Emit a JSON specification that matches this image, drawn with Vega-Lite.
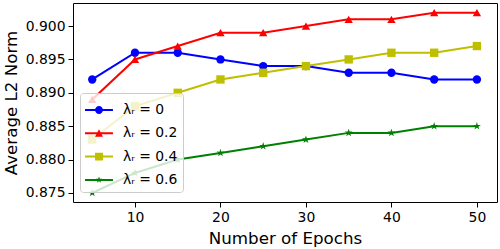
{
  "$schema": "https://vega.github.io/schema/vega-lite/v6.json",
  "width": 424,
  "height": 199,
  "autosize": {"type": "none"},
  "padding": {"left": 73, "top": 3, "right": 3, "bottom": 47},
  "background": "white",
  "config": {
    "view": {"stroke": "black", "strokeWidth": 1},
    "font": "DejaVu Sans",
    "axis": {
      "grid": false,
      "domain": false,
      "tickColor": "black",
      "tickSize": 5,
      "labelColor": "black",
      "labelFont": "DejaVu Sans",
      "labelFontSize": 13.9,
      "labelPadding": 3,
      "titleFont": "DejaVu Sans",
      "titleFontSize": 16.7,
      "titleFontWeight": "normal",
      "titleColor": "black"
    }
  },
  "data": {
    "values": [
      {"epoch": 5, "value": 0.892, "series": "λᵣ = 0"},
      {"epoch": 10, "value": 0.896, "series": "λᵣ = 0"},
      {"epoch": 15, "value": 0.896, "series": "λᵣ = 0"},
      {"epoch": 20, "value": 0.895, "series": "λᵣ = 0"},
      {"epoch": 25, "value": 0.894, "series": "λᵣ = 0"},
      {"epoch": 30, "value": 0.894, "series": "λᵣ = 0"},
      {"epoch": 35, "value": 0.893, "series": "λᵣ = 0"},
      {"epoch": 40, "value": 0.893, "series": "λᵣ = 0"},
      {"epoch": 45, "value": 0.892, "series": "λᵣ = 0"},
      {"epoch": 50, "value": 0.892, "series": "λᵣ = 0"},
      {"epoch": 5, "value": 0.889, "series": "λᵣ = 0.2"},
      {"epoch": 10, "value": 0.895, "series": "λᵣ = 0.2"},
      {"epoch": 15, "value": 0.897, "series": "λᵣ = 0.2"},
      {"epoch": 20, "value": 0.899, "series": "λᵣ = 0.2"},
      {"epoch": 25, "value": 0.899, "series": "λᵣ = 0.2"},
      {"epoch": 30, "value": 0.900, "series": "λᵣ = 0.2"},
      {"epoch": 35, "value": 0.901, "series": "λᵣ = 0.2"},
      {"epoch": 40, "value": 0.901, "series": "λᵣ = 0.2"},
      {"epoch": 45, "value": 0.902, "series": "λᵣ = 0.2"},
      {"epoch": 50, "value": 0.902, "series": "λᵣ = 0.2"},
      {"epoch": 5, "value": 0.883, "series": "λᵣ = 0.4"},
      {"epoch": 10, "value": 0.888, "series": "λᵣ = 0.4"},
      {"epoch": 15, "value": 0.890, "series": "λᵣ = 0.4"},
      {"epoch": 20, "value": 0.892, "series": "λᵣ = 0.4"},
      {"epoch": 25, "value": 0.893, "series": "λᵣ = 0.4"},
      {"epoch": 30, "value": 0.894, "series": "λᵣ = 0.4"},
      {"epoch": 35, "value": 0.895, "series": "λᵣ = 0.4"},
      {"epoch": 40, "value": 0.896, "series": "λᵣ = 0.4"},
      {"epoch": 45, "value": 0.896, "series": "λᵣ = 0.4"},
      {"epoch": 50, "value": 0.897, "series": "λᵣ = 0.4"},
      {"epoch": 5, "value": 0.875, "series": "λᵣ = 0.6"},
      {"epoch": 10, "value": 0.878, "series": "λᵣ = 0.6"},
      {"epoch": 15, "value": 0.880, "series": "λᵣ = 0.6"},
      {"epoch": 20, "value": 0.881, "series": "λᵣ = 0.6"},
      {"epoch": 25, "value": 0.882, "series": "λᵣ = 0.6"},
      {"epoch": 30, "value": 0.883, "series": "λᵣ = 0.6"},
      {"epoch": 35, "value": 0.884, "series": "λᵣ = 0.6"},
      {"epoch": 40, "value": 0.884, "series": "λᵣ = 0.6"},
      {"epoch": 45, "value": 0.885, "series": "λᵣ = 0.6"},
      {"epoch": 50, "value": 0.885, "series": "λᵣ = 0.6"}
    ]
  },
  "encoding": {
    "x": {
      "field": "epoch", "type": "quantitative",
      "scale": {"domain": [2.75, 52.35], "nice": false, "zero": false},
      "axis": {"values": [10, 20, 30, 40, 50], "title": "Number of Epochs", "titlePadding": 7}
    },
    "y": {
      "field": "value", "type": "quantitative",
      "scale": {"domain": [0.87365, 0.90345], "nice": false, "zero": false},
      "axis": {"values": [0.875, 0.88, 0.885, 0.89, 0.895, 0.9], "format": ".3f", "title": "Average L2 Norm", "titlePadding": 5}
    }
  },
  "layer": [
    {
      "mark": {"type": "line", "strokeWidth": 2},
      "encoding": {
        "color": {
          "field": "series", "type": "nominal",
          "scale": {"domain": ["λᵣ = 0", "λᵣ = 0.2", "λᵣ = 0.4", "λᵣ = 0.6"], "range": ["#0000ff", "#ff0000", "#bfbf00", "#008000"]},
          "legend": {
            "title": null,
            "orient": "none",
            "legendX": 7,
            "legendY": 90,
            "padding": 5,
            "symbolSize": 576,
            "rowPadding": 4.3,
            "labelOffset": 14,
            "labelFont": "DejaVu Sans",
            "labelFontSize": 13.9,
            "labelColor": "black",
            "fillColor": "rgba(255,255,255,0.8)",
            "strokeColor": "#cccccc",
            "cornerRadius": 3,
            "symbolStrokeWidth": 0,
            "encode": {
              "symbols": {
                "update": {
                  "shape": {"signal": "datum.value == 'λᵣ = 0' ? 'M-1,-0.083L1.33,-0.083L1.33,0.083L-1,0.083Z M0.497,0 A0.33,0.33 0 1,1 -0.163,0 A0.33,0.33 0 1,1 0.497,0Z' : datum.value == 'λᵣ = 0.2' ? 'M-1,-0.083L1.33,-0.083L1.33,0.083L-1,0.083Z M0.167,-0.33L0.497,0.29L-0.163,0.29Z' : datum.value == 'λᵣ = 0.4' ? 'M-1,-0.083L1.33,-0.083L1.33,0.083L-1,0.083Z M-0.163,-0.33L0.497,-0.33L0.497,0.33L-0.163,0.33Z' : 'M-1,-0.083L1.33,-0.083L1.33,0.083L-1,0.083Z M0.167,-0.29L0.238,-0.097L0.444,-0.09L0.281,0.037L0.338,0.236L0.167,0.12L-0.004,0.236L0.053,0.037L-0.11,-0.09L0.096,-0.097Z'"},
                  "fill": {"scale": "color", "field": "value"},
                  "strokeWidth": {"value": 0},
                  "opacity": {"value": 1}
                }
              }
            }
          }
        }
      }
    },
    {
      "transform": [{"filter": "datum.series == 'λᵣ = 0'"}],
      "mark": {"type": "point", "shape": "circle", "filled": true, "opacity": 1, "size": 70, "color": "#0000ff"}
    },
    {
      "transform": [{"filter": "datum.series == 'λᵣ = 0.2'"}],
      "mark": {"type": "point", "shape": "triangle-up", "filled": true, "opacity": 1, "size": 70, "color": "#ff0000"}
    },
    {
      "transform": [{"filter": "datum.series == 'λᵣ = 0.4'"}],
      "mark": {"type": "point", "shape": "square", "filled": true, "opacity": 1, "size": 70, "color": "#bfbf00"}
    },
    {
      "transform": [{"filter": "datum.series == 'λᵣ = 0.6'"}],
      "mark": {"type": "point", "shape": "M0,-1L0.223,-0.307L0.951,-0.309L0.361,0.117L0.588,0.809L0,0.38L-0.588,0.809L-0.361,0.117L-0.951,-0.309L-0.223,-0.307Z", "filled": true, "opacity": 1, "size": 70, "color": "#008000"}
    }
  ]
}
